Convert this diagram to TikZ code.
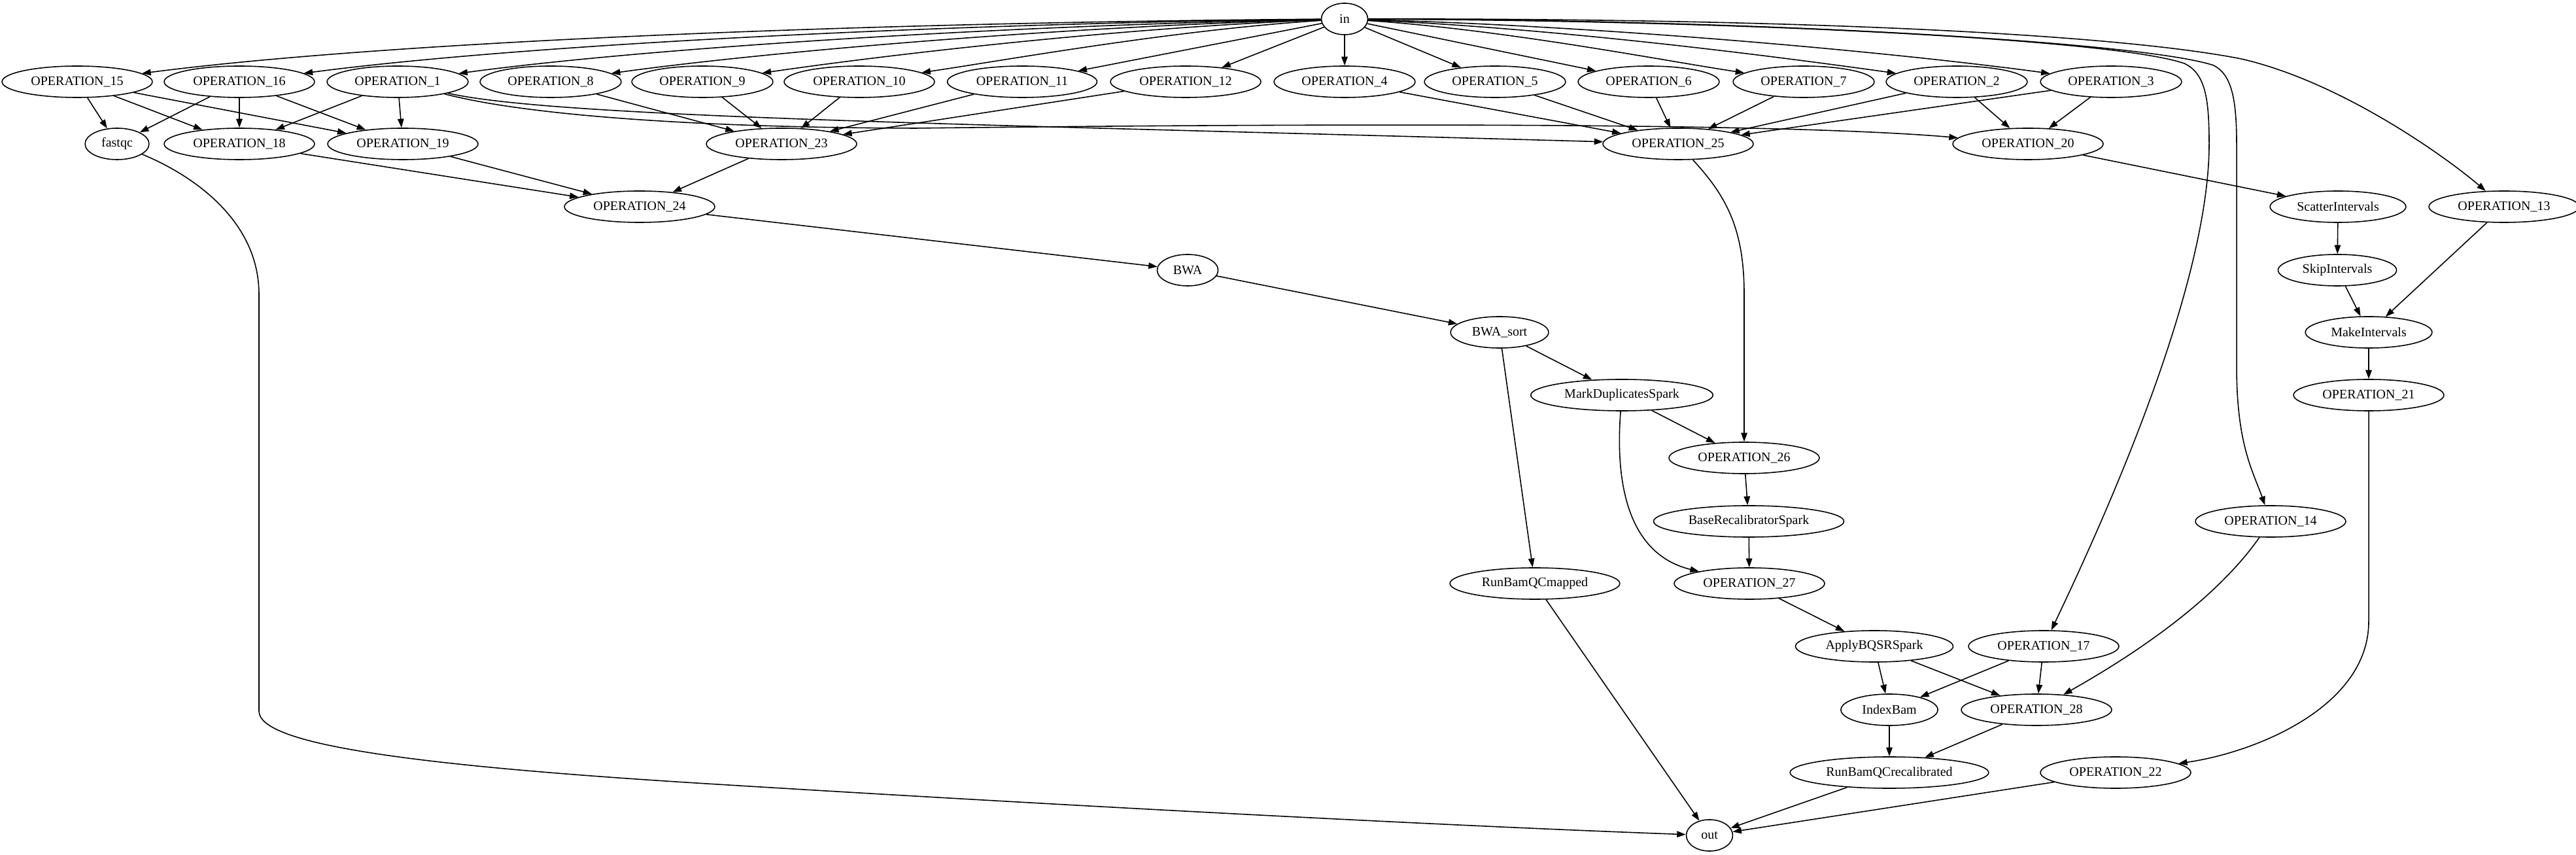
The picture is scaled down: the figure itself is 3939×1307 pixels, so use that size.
\documentclass[tikz,border=0pt]{standalone}
\usepackage{fontspec}
\setmainfont{Liberation Serif}
\usetikzlibrary{shapes.geometric,arrows.meta}
\tikzset{
  nd/.style={ellipse, draw, line width=0.45pt, inner xsep=0.107cm, inner ysep=0.04cm,
    minimum height=0.48cm, minimum width=0.71cm, font=\fontsize{5.69}{6.8}\selectfont},
  edge/.style={draw, line width=0.45pt, -{Triangle[length=0.135cm,width=0.095cm]}}
}
\begin{document}
\begin{tikzpicture}[x=0.01cm, y=-0.01cm]
\useasboundingbox (0,0) rectangle (3939,1307);
% nodes
\node[nd] (in) at (2056,29) {in};
\node[nd] (o15) at (118,125) {OPERATION\_15};
\node[nd] (o16) at (366,125) {OPERATION\_16};
\node[nd] (o1) at (608,125) {OPERATION\_1};
\node[nd] (o8) at (842,125) {OPERATION\_8};
\node[nd] (o9) at (1074,125) {OPERATION\_9};
\node[nd] (o10) at (1314,125) {OPERATION\_10};
\node[nd] (o11) at (1563,125) {OPERATION\_11};
\node[nd] (o12) at (1813,125) {OPERATION\_12};
\node[nd] (o4) at (2056,125) {OPERATION\_4};
\node[nd] (o5) at (2286,125) {OPERATION\_5};
\node[nd] (o6) at (2521,125) {OPERATION\_6};
\node[nd] (o7) at (2758,125) {OPERATION\_7};
\node[nd] (o2) at (2992,125) {OPERATION\_2};
\node[nd] (o3) at (3228,125) {OPERATION\_3};
\node[nd] (fastqc) at (179,220) {fastqc};
\node[nd] (o18) at (366,220) {OPERATION\_18};
\node[nd] (o19) at (616,220) {OPERATION\_19};
\node[nd] (o23) at (1195,220) {OPERATION\_23};
\node[nd] (o25) at (2566,220) {OPERATION\_25};
\node[nd] (o20) at (3101,220) {OPERATION\_20};
\node[nd] (o24) at (978,316) {OPERATION\_24};
\node[nd] (scatter) at (3575,316) {ScatterIntervals};
\node[nd] (o13) at (3829,316) {OPERATION\_13};
\node[nd] (bwa) at (1816,413) {BWA};
\node[nd] (skip) at (3574,413) {SkipIntervals};
\node[nd] (bwasort) at (2293,508) {BWA\_sort};
\node[nd] (make) at (3622,508) {MakeIntervals};
\node[nd] (markdup) at (2480,604) {MarkDuplicatesSpark};
\node[nd] (o21) at (3622,604) {OPERATION\_21};
\node[nd] (o26) at (2667,700) {OPERATION\_26};
\node[nd] (baserecal) at (2674,797) {BaseRecalibratorSpark};
\node[nd] (o14) at (3472,797) {OPERATION\_14};
\node[nd] (qcmapped) at (2347,892) {RunBamQCmapped};
\node[nd] (o27) at (2675,892) {OPERATION\_27};
\node[nd] (applybqsr) at (2866,988) {ApplyBQSRSpark};
\node[nd] (o17) at (3125,988) {OPERATION\_17};
\node[nd] (indexbam) at (2889,1085) {IndexBam};
\node[nd] (o28) at (3114,1085) {OPERATION\_28};
\node[nd] (qcrecal) at (2889,1181) {RunBamQCrecalibrated};
\node[nd] (o22) at (3235,1181) {OPERATION\_22};
\node[nd] (out) at (2614,1277) {out};
% edges from in
\draw[edge] (in) .. controls (1349,34) and (605,62) .. (o15);
\draw[edge] (in) .. controls (1441,36) and (799,68) .. (o16);
\draw[edge] (in) .. controls (1529,39) and (983,74) .. (o1);
\draw[edge] (in) .. controls (1615,41) and (1166,80) .. (o8);
\draw[edge] (in) .. controls (1702,43) and (1348,85) .. (o9);
\draw[edge] (in) .. controls (1792,46) and (1538,92) .. (o10);
\draw[edge] (in) -- (o11);
\draw[edge] (in) -- (o12);
\draw[edge] (in) -- (o4);
\draw[edge] (in) -- (o5);
\draw[edge] (in) -- (o6);
\draw[edge] (in) .. controls (2306,46) and (2545,93) .. (o7);
\draw[edge] (in) .. controls (2393,44) and (2727,88) .. (o2);
\draw[edge] (in) .. controls (2480,41) and (2911,82) .. (o3);
\draw[edge] (in) .. controls (2800,28) and (3250,55) .. (3427,90) .. controls (3580,125) and (3740,240) .. (o13);
\draw[edge] (in) .. controls (2700,32) and (3240,62) .. (3340,97) .. controls (3372,112) and (3378,150) .. (3378,220) .. controls (3378,450) and (3200,830) .. (o17);
\draw[edge] (in) .. controls (2700,30) and (3280,65) .. (3385,100) .. controls (3412,114) and (3420,150) .. (3420,220) -- (3420,560) .. controls (3420,680) and (3445,720) .. (o14);
% row 1 to row 2
\draw[edge] (o15) -- (fastqc);
\draw[edge] (o15) -- (o18);
\draw[edge] (o15) -- (o19);
\draw[edge] (o16) -- (fastqc);
\draw[edge] (o16) -- (o18);
\draw[edge] (o16) -- (o19);
\draw[edge] (o1) -- (o18);
\draw[edge] (o1) -- (o19);
\draw[edge] (o1) .. controls (850,180) and (1500,190) .. (o25);
\draw[edge] (o1) .. controls (800,175) and (1050,195) .. (1400,196) .. controls (1900,190) and (2700,185) .. (o20);
\draw[edge] (o8) -- (o23);
\draw[edge] (o9) -- (o23);
\draw[edge] (o10) -- (o23);
\draw[edge] (o11) -- (o23);
\draw[edge] (o12) -- (o23);
\draw[edge] (o4) -- (o25);
\draw[edge] (o5) -- (o25);
\draw[edge] (o6) -- (o25);
\draw[edge] (o7) -- (o25);
\draw[edge] (o2) -- (o25);
\draw[edge] (o3) -- (o25);
\draw[edge] (o2) -- (o20);
\draw[edge] (o3) -- (o20);
% lower part
\draw[edge] (o18) -- (o24);
\draw[edge] (o19) -- (o24);
\draw[edge] (o23) -- (o24);
\draw[edge] (o24) -- (bwa);
\draw[edge] (bwa) -- (bwasort);
\draw[edge] (bwasort) -- (markdup);
\draw[edge] (bwasort) -- (qcmapped);
\draw[edge] (markdup) -- (o26);
\draw[edge] (markdup) .. controls (2468,760) and (2500,850) .. (o27);
\draw[edge] (o25) .. controls (2640,300) and (2667,350) .. (2667,450) -- (o26);
\draw[edge] (o26) -- (baserecal);
\draw[edge] (baserecal) -- (o27);
\draw[edge] (o27) -- (applybqsr);
\draw[edge] (applybqsr) -- (indexbam);
\draw[edge] (applybqsr) -- (o28);
\draw[edge] (o17) -- (indexbam);
\draw[edge] (o17) -- (o28);
\draw[edge] (o14) .. controls (3400,900) and (3300,980) .. (o28);
\draw[edge] (indexbam) -- (qcrecal);
\draw[edge] (o28) -- (qcrecal);
\draw[edge] (qcrecal) -- (out);
\draw[edge] (o22) -- (out);
\draw[edge] (qcmapped) -- (out);
\draw[edge] (fastqc) .. controls (300,270) and (396,340) .. (396,450) -- (396,1087) .. controls (396,1135) and (600,1168) .. (1065,1197) .. controls (1600,1230) and (2200,1262) .. (out);
\draw[edge] (o20) -- (scatter);
\draw[edge] (scatter) -- (skip);
\draw[edge] (skip) -- (make);
\draw[edge] (o13) -- (make);
\draw[edge] (make) -- (o21);
\draw[edge] (o21) -- (3622,950) .. controls (3622,1080) and (3450,1150) .. (o22);
\end{tikzpicture}
\end{document}
